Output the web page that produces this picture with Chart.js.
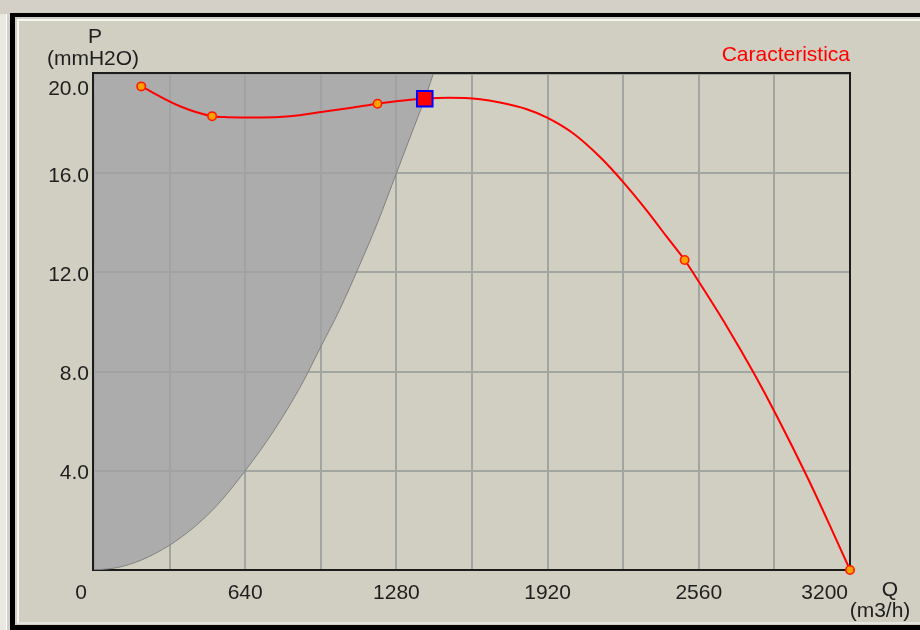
<!DOCTYPE html>
<html>
<head>
<meta charset="utf-8">
<script src="https://cdn.jsdelivr.net/npm/chart.js@4.4.1/dist/chart.umd.min.js"></script>
<style>
html,body{margin:0;padding:0;width:920px;height:630px;overflow:hidden;background:#d4d0c8;}
#strip{position:absolute;left:0;top:14px;width:6px;height:616px;background:#e9e8e3;border-right:1px solid #ffffff;}
#frame{position:absolute;left:10px;top:13px;width:930px;height:617px;box-sizing:border-box;border-left:5px solid #000;border-top:4px solid #000;border-bottom:5px solid #000;background:#d1cfc1;}
#inner{position:absolute;left:17px;top:19px;width:930px;height:605px;box-sizing:border-box;border-left:2px solid #f6f6f2;border-top:2px solid #f6f6f2;border-bottom:2px solid #e4e4de;}
#wrap{position:absolute;left:0;top:0;width:920px;height:630px;}
</style>
</head>
<body>
<div id="strip"></div>
<div id="frame"></div>
<div id="inner"></div>
<div id="wrap"><canvas id="c" width="920" height="630"></canvas></div>
<script>
// ---- data ----
// Fan characteristic curve (Q in m3/h, P in mmH2O)
const curveQ = [200, 364, 500, 562, 700, 830, 971, 1098, 1200, 1300, 1400, 1500, 1634, 1718, 1832, 1916, 2029, 2142, 2240, 2339, 2424, 2500, 2561, 2678, 2791, 2890, 3017, 3115, 3200];
const curveP = [19.5, 18.7, 18.3, 18.26, 18.25, 18.3, 18.48, 18.65, 18.8, 18.92, 19.0, 19.04, 18.98, 18.85, 18.58, 18.25, 17.6, 16.65, 15.64, 14.5, 13.44, 12.5, 11.61, 9.83, 7.97, 6.21, 3.79, 1.79, 0];
// measured points on the characteristic
const markerQ = [200, 500, 1200, 2500, 3200];
const markerP = [19.5, 18.3, 18.8, 12.5, 0];
// operating point
const opQ = [1400];
const opP = [19.0];
// system curve bounding the shaded area
const sysQ = [0, 100, 200, 320, 420, 520, 640, 760, 880, 960, 1040, 1120, 1200, 1280, 1340, 1400, 1450];
const sysP = [0, 0.1, 0.4, 1.0, 1.7, 2.6, 4.0, 5.6, 7.5, 9.0, 10.5, 12.2, 14.0, 16.0, 17.5, 19.0, 20.4];
// ticks
const xTickValues = [0, 640, 1280, 1920, 2560, 3200];
const xTickLabels = ['0', '640', '1280', '1920', '2560', '3200'];
const yTickValues = [4, 8, 12, 16, 20];
const yTickLabels = ['4.0', '8.0', '12.0', '16.0', '20.0'];
const legendLabel = 'Caracteristica';
const yTitle = ['P', '(mmH2O)'];
const xTitle = ['Q', '(m3/h)'];

const pts = (xs, ys) => xs.map((q, i) => ({x: q, y: ys[i]}));
const FONT = '21px "Liberation Sans", Arial, sans-serif';

const framePlugin = {
  id: 'frame',
  beforeDatasetsDraw(chart) {
    const {ctx, chartArea: a} = chart;
    ctx.save();
    ctx.strokeStyle = '#1c1c1c';
    ctx.lineWidth = 2;
    ctx.strokeRect(a.left - 1, a.top - 1, a.right - a.left + 1, a.bottom - a.top + 1);
    ctx.restore();
  },
  afterDraw(chart) {
    const {ctx, chartArea: a, scales: {x, y}} = chart;
    ctx.save();
    ctx.font = FONT;
    ctx.fillStyle = '#1e1e1e';
    ctx.textBaseline = 'alphabetic';
    // y tick labels
    ctx.textAlign = 'right';
    yTickValues.forEach((v, i) => {
      let py = y.getPixelForValue(v) + 8.5;
      py = Math.max(py, a.top + 21);
      ctx.fillText(yTickLabels[i], a.left - 5, py);
    });
    // x tick labels
    xTickValues.forEach((v, i) => {
      const px = x.getPixelForValue(v);
      const w = ctx.measureText(xTickLabels[i]).width;
      if (v === 0) {
        ctx.textAlign = 'right';
        ctx.fillText(xTickLabels[i], px - 7, a.bottom + 29);
      } else if (px + w / 2 > a.right) {
        ctx.textAlign = 'right';
        ctx.fillText(xTickLabels[i], a.right - 2, a.bottom + 29);
      } else {
        ctx.textAlign = 'center';
        ctx.fillText(xTickLabels[i], px, a.bottom + 29);
      }
    });
    // axis titles
    ctx.textAlign = 'center';
    ctx.fillText(yTitle[0], a.left + 1, a.top - 31);
    ctx.fillText(yTitle[1], a.left - 1, a.top - 9);
    ctx.fillText(xTitle[0], a.right + 40, a.bottom + 26);
    ctx.fillText(xTitle[1], a.right + 30, a.bottom + 47);
    // legend
    ctx.fillStyle = '#ff0000';
    ctx.textAlign = 'right';
    ctx.fillText(legendLabel, a.right, a.top - 13);
    ctx.restore();
  }
};

new Chart(document.getElementById('c'), {
  type: 'scatter',
  data: {
    datasets: [
      {
        label: 'Punto di lavoro',
        data: pts(opQ, opP),
        pointStyle: 'rect',
        pointRadius: 11,
        pointBackgroundColor: '#ff0000',
        pointBorderColor: '#0000ff',
        pointBorderWidth: 2,
        showLine: false,
        clip: false,
        order: 0
      },
      {
        label: 'Punti',
        data: pts(markerQ, markerP),
        pointStyle: 'circle',
        pointRadius: 4.2,
        pointBackgroundColor: '#ffa000',
        pointBorderColor: '#ff1a00',
        pointBorderWidth: 1.6,
        showLine: false,
        clip: false,
        order: 1
      },
      {
        label: legendLabel,
        data: pts(curveQ, curveP),
        showLine: true,
        borderColor: '#ff0000',
        borderWidth: 2,
        pointRadius: 0,
        cubicInterpolationMode: 'monotone',
        fill: false,
        order: 2
      },
      {
        label: 'Sistema',
        data: pts(sysQ, sysP),
        showLine: true,
        borderColor: '#808080',
        borderWidth: 1,
        backgroundColor: 'rgba(160,161,166,0.76)',
        pointRadius: 0,
        cubicInterpolationMode: 'monotone',
        fill: 'end',
        order: 3
      }
    ]
  },
  options: {
    responsive: false,
    animation: false,
    events: [],
    layout: {padding: {left: 94, right: 70, top: 74, bottom: 60}},
    plugins: {legend: {display: false}, tooltip: {enabled: false}, title: {display: false}},
    scales: {
      x: {
        type: 'linear', min: 0, max: 3200,
        ticks: {display: false, stepSize: 320},
        grid: {color: '#a1a6a0', lineWidth: 2, drawTicks: false},
        border: {display: false},
        afterFit(s) { s.height = 0; }
      },
      y: {
        type: 'linear', min: 0, max: 20,
        ticks: {display: false, stepSize: 4},
        grid: {color: '#a1a6a0', lineWidth: 2, drawTicks: false},
        border: {display: false},
        afterFit(s) { s.width = 0; }
      }
    }
  },
  plugins: [framePlugin]
});
</script>
</body>
</html>
